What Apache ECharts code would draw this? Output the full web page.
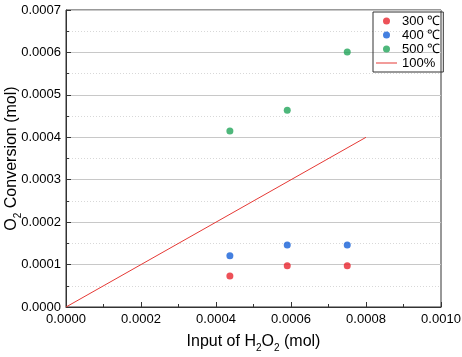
<!DOCTYPE html>
<html><head><meta charset="utf-8">
<script src="https://cdn.jsdelivr.net/npm/echarts@6/dist/echarts.min.js"></script>
<style>html,body{margin:0;padding:0;background:#fff}#c{width:462px;height:357px}</style>
</head><body><div id="c"></div>
<script>
const xInput = [0.000437, 0.00059, 0.00075];
const conv300 = [0.000073, 0.000097, 0.000097];
const conv400 = [0.000121, 0.000146, 0.000146];
const conv500 = [0.000415, 0.000464, 0.000601];
const lineX = [0, 0.0008];
const lineY = [0, 0.0004];
const seriesNames = ['300 ℃', '400 ℃', '500 ℃', '100%'];

const FONT = 'Liberation Sans, Arial, sans-serif';
const pair = (xs, ys) => xs.map((x, i) => [x, ys[i]]);
const rich = {
  a: {fontSize: 16, fontFamily: FONT, color: '#000', lineHeight: 22},
  s: {fontSize: 10, fontFamily: FONT, color: '#000', lineHeight: 11, verticalAlign: 'bottom'}
};
const chart = echarts.init(document.getElementById('c'));
chart.setOption({
  animation: false,
  textStyle: {fontFamily: FONT},
  grid: {left: 66, right: 21, top: 10, bottom: 50, show: true, borderColor: '#333', borderWidth: 1,
         containLabel: false, outerBoundsMode: 'none'},
  legend: {
    orient: 'vertical', left: 373, top: 12,
    data: [
      {name: seriesNames[0], icon: 'circle'},
      {name: seriesNames[1], icon: 'circle'},
      {name: seriesNames[2], icon: 'circle'},
      {name: seriesNames[3], icon: 'path://M0,0H21V1H0Z'}
    ],
    borderColor: '#333', borderWidth: 1, borderRadius: 0,
    padding: [2, 3, 2, 3], itemGap: 0, itemWidth: 21, itemHeight: 7,
    textStyle: {fontSize: 13, color: '#000', fontFamily: FONT, lineHeight: 14}
  },
  xAxis: {
    type: 'value', min: 0, max: 0.001, interval: 0.0002,
    name: '{a|Input of H}{s|2}{a|O}{s|2}{a| (mol)}',
    nameLocation: 'middle', nameGap: 24, nameMoveOverlap: false,
    nameTextStyle: {rich},
    axisLine: {lineStyle: {color: '#333', width: 1}},
    axisTick: {inside: true, length: 5, lineStyle: {color: '#333'}},
    minorTick: {show: true, splitNumber: 2, length: 3, lineStyle: {color: '#333'}},
    axisLabel: {formatter: v => v.toFixed(4), fontSize: 13, color: '#000', margin: 6, fontFamily: FONT},
    splitLine: {show: false}
  },
  yAxis: {
    type: 'value', min: 0, max: 0.0007, interval: 0.0001,
    name: '{a|O}{s|2}{a| Conversion (mol)}',
    nameLocation: 'middle', nameGap: 43, nameRotate: 90, nameMoveOverlap: false,
    nameTextStyle: {rich},
    axisLine: {lineStyle: {color: '#333', width: 1}},
    axisTick: {inside: true, length: 5, lineStyle: {color: '#333'}},
    minorTick: {show: true, splitNumber: 2, length: 3, lineStyle: {color: '#333'}},
    axisLabel: {formatter: v => v.toFixed(4), fontSize: 13, color: '#000', margin: 5, fontFamily: FONT},
    splitLine: {show: true, lineStyle: {color: '#c8c8c8', width: 1}},
    minorSplitLine: {show: true, lineStyle: {color: '#d8d8d8', type: [1, 2], width: 1}}
  },
  series: [
    {name: seriesNames[0], type: 'scatter', symbolSize: 7, itemStyle: {color: '#e8262e'}, data: pair(xInput, conv300)},
    {name: seriesNames[1], type: 'scatter', symbolSize: 7, itemStyle: {color: '#1560d8'}, data: pair(xInput, conv400)},
    {name: seriesNames[2], type: 'scatter', symbolSize: 7, itemStyle: {color: '#22a55a'}, data: pair(xInput, conv500)},
    {name: seriesNames[3], type: 'line', symbol: 'none', lineStyle: {color: '#e53935', width: 1}, itemStyle: {color: '#e53935'}, data: pair(lineX, lineY)}
  ]
});
</script></body></html>
